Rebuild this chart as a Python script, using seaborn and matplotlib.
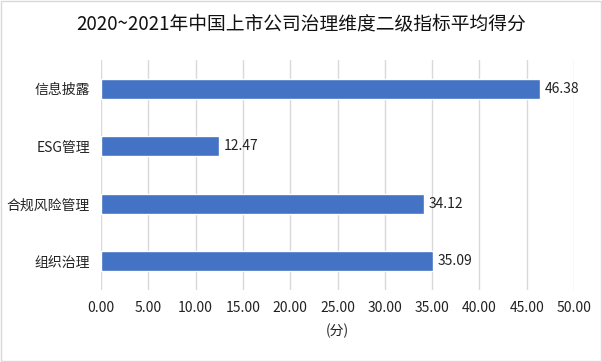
import matplotlib
matplotlib.use("Agg")
import matplotlib.pyplot as plt
import seaborn as sns
import pandas as pd

# 数据
categories = ['信息披露', 'ESG管理', '合规风险管理', '组织治理']
scores = [46.38, 12.47, 34.12, 35.09]

df = pd.DataFrame({'指标': categories, '得分': scores})

sns.set_theme(style='white')
plt.rcParams['font.family'] = ['Noto Sans CJK SC', 'DejaVu Sans']

fig = plt.figure(figsize=(6.02, 3.62), dpi=100)
ax = fig.add_axes([101/602, 1-290/362, (574-101)/602, 230/362])

sns.barplot(data=df, y='指标', x='得分', color='#4472C4', width=0.35,
            saturation=1, ax=ax, zorder=3)

ax.set_xlim(0, 50)
ax.set_xticks(range(0, 51, 5))
ax.set_xticklabels([f'{v:.2f}' for v in range(0, 51, 5)], fontsize=10, color='#222222')
ax.tick_params(axis='y', labelsize=10, colors='#222222', length=0, pad=8)
ax.tick_params(axis='x', length=0, pad=8)
ax.grid(axis='x', color='#D9D9D9', linewidth=1, zorder=0)
for s in ax.spines.values():
    s.set_visible(False)
ax.set_ylabel('')
ax.set_xlabel('(分)', fontsize=10, color='#222222', labelpad=6)

for i, v in enumerate(scores):
    ax.text(v + 0.5, i, f'{v:.2f}', va='center', ha='left', fontsize=10,
            color='#222222', zorder=4)

fig.text(0.5, 1-24/362, '2020~2021年中国上市公司治理维度二级指标平均得分',
         ha='center', va='center', fontsize=13.5, color='#111111')

border = plt.Rectangle((0.001, 0.002), 0.997, 0.995, transform=fig.transFigure,
                       fill=False, edgecolor='#D9D9D9', linewidth=1)
fig.patches.append(border)

fig.savefig('out.png', dpi=100)
